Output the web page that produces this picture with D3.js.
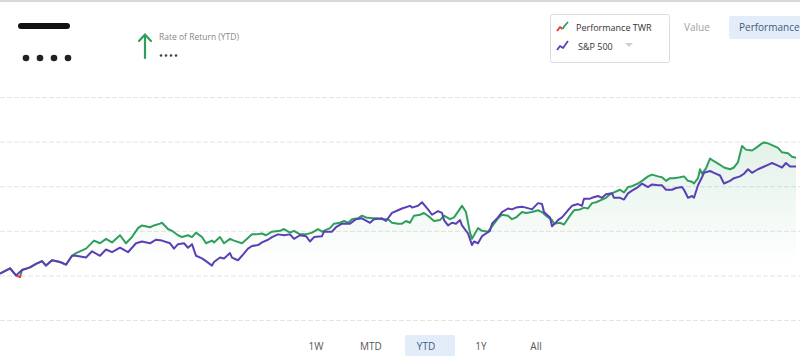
<!DOCTYPE html>
<html>
<head>
<meta charset="utf-8">
<script src="https://cdn.jsdelivr.net/npm/d3@7"></script>
<style>
  body { margin: 0; background: #fff; font-family: "Open Sans", Lato, sans-serif; }
  svg { display: block; }
</style>
</head>
<body>
<div id="chart"></div>
<script>
// [trading day, return %]
var twrSeries = [[0,0.2],[5,0.8],[8,0.0],[10,-0.2],[11,0.6],[15,0.9],[18,1.3],[21,1.6],[23,1.1],[26,1.7],[30,1.5],[33,1.2],[36,2.2],[38,2.5],[43,3.0],[47,3.9],[50,3.6],[53,4.1],[56,3.7],[60,4.5],[63,3.6],[66,4.3],[69,5.3],[71,5.6],[75,5.4],[77,5.6],[80,5.8],[81,5.9],[84,5.2],[86,5.0],[89,4.5],[91,4.3],[94,4.5],[96,4.3],[98,4.8],[101,4.3],[103,3.6],[106,3.9],[107,3.7],[110,4.3],[112,3.6],[115,4.1],[117,3.9],[121,3.6],[123,4.0],[126,4.6],[128,4.6],[131,4.7],[133,4.5],[136,4.9],[140,5.0],[142,5.2],[145,4.8],[147,5.0],[150,4.6],[153,4.6],[156,4.8],[159,5.2],[161,4.9],[165,5.3],[167,5.8],[170,5.9],[172,6.1],[174,5.9],[176,6.3],[179,6.4],[181,6.7],[183,6.5],[186,6.4],[188,6.4],[191,6.3],[194,6.3],[196,5.9],[199,5.8],[201,5.8],[203,6.1],[205,5.9],[207,6.7],[210,6.8],[212,7.0],[215,6.5],[217,6.1],[220,6.2],[222,6.7],[225,6.3],[227,6.5],[231,7.8],[233,7.1],[235,4.8],[236,4.1],[239,5.3],[241,5.0],[244,4.9],[246,5.5],[249,6.4],[251,6.8],[254,6.7],[256,6.3],[258,6.5],[261,7.1],[263,7.0],[266,7.1],[269,7.3],[271,7.1],[273,6.7],[276,6.2],[277,5.8],[280,5.9],[282,5.7],[285,6.7],[287,7.3],[290,7.4],[292,7.6],[294,7.5],[296,8.1],[298,8.2],[301,8.5],[303,8.7],[305,9.1],[307,9.3],[310,9.6],[312,9.3],[314,9.9],[316,10.0],[319,10.3],[321,10.6],[324,11.1],[326,11.3],[329,11.1],[331,11.0],[333,10.6],[335,10.9],[337,10.9],[340,11.0],[342,11.1],[344,10.6],[346,10.5],[347,10.3],[349,10.9],[350,11.9],[351,11.4],[353,12.0],[355,13.1],[357,12.8],[360,12.4],[362,12.1],[365,11.9],[367,12.1],[369,12.7],[371,14.5],[373,14.1],[376,14.0],[378,14.3],[381,14.8],[382,14.9],[384,14.8],[386,14.6],[389,14.3],[391,13.8],[394,13.7],[396,13.3],[398,13.2]];

var spSeries = [[0,0.2],[5,0.8],[8,0.0],[11,0.6],[15,0.9],[18,1.3],[21,1.6],[23,1.1],[26,1.7],[30,1.5],[33,1.2],[36,2.2],[38,2.2],[43,2.0],[46,2.7],[50,2.2],[53,2.9],[56,2.6],[60,3.1],[64,2.6],[68,3.6],[71,3.8],[75,3.6],[78,4.0],[81,3.9],[85,3.6],[87,3.0],[89,3.5],[92,3.6],[94,3.1],[96,3.5],[98,2.2],[101,1.9],[103,1.6],[106,1.1],[107,1.5],[110,2.0],[112,1.9],[115,2.5],[116,2.0],[119,1.7],[121,2.2],[124,3.0],[126,3.3],[129,3.4],[131,3.7],[134,4.0],[136,4.3],[139,4.6],[142,4.5],[145,4.6],[147,4.1],[150,4.5],[153,4.4],[155,3.8],[157,4.3],[161,4.4],[162,4.9],[166,4.9],[168,5.4],[171,5.8],[175,5.8],[178,6.3],[181,6.4],[185,5.9],[187,6.3],[191,6.4],[193,6.1],[196,7.0],[199,7.3],[201,7.5],[205,7.8],[206,7.6],[209,7.8],[211,8.2],[214,7.4],[216,6.8],[219,7.2],[221,7.0],[222,6.2],[224,5.6],[226,5.9],[228,5.8],[230,6.2],[231,5.6],[234,4.7],[236,3.4],[237,3.8],[239,3.6],[241,4.4],[243,4.7],[245,5.0],[246,5.8],[249,6.5],[251,7.1],[254,7.5],[256,7.4],[258,7.6],[261,7.7],[263,7.6],[266,7.4],[269,8.1],[271,8.0],[272,7.1],[275,6.5],[276,5.5],[279,6.2],[281,6.5],[284,7.3],[286,7.8],[289,8.0],[291,7.8],[292,8.6],[295,8.6],[296,8.7],[299,8.9],[301,8.7],[303,9.1],[306,9.2],[307,8.7],[310,8.7],[312,8.5],[314,9.2],[316,9.5],[319,9.9],[321,10.3],[324,9.9],[326,10.2],[329,10.1],[331,10.1],[333,9.6],[336,9.6],[338,9.8],[341,9.9],[342,9.6],[344,8.7],[346,8.9],[347,8.7],[349,10.1],[351,11.0],[352,11.5],[355,11.7],[357,11.5],[360,11.2],[362,10.3],[365,10.6],[367,10.9],[370,11.1],[372,11.4],[374,11.9],[376,11.5],[379,11.9],[381,12.1],[384,12.4],[386,12.6],[389,12.3],[391,12.1],[393,12.6],[395,12.2],[398,12.2]];

var gridTicks = [-5, 0, 5, 10, 15, 20];
var legendNames = ["Performance TWR", "S&P 500"];
var viewNames = ["Value", "Performance"];
var periods = ["1W", "MTD", "YTD", "1Y", "All"];
var activePeriod = "YTD";

var W = 800, H = 364;
var green = "#2f9e5c", red = "#e0393e", purple = "#5b3fb6";

var svg = d3.select("#chart").append("svg").attr("width", W).attr("height", H);
var defs = svg.append("defs");

var x = d3.scaleLinear().domain([0, 398]).range([0, 796]);
var y = d3.scaleLinear().domain([-5, 20]).range([320, 97]);

// top border
svg.append("line").attr("x1", 0).attr("x2", W).attr("y1", 1).attr("y2", 1)
  .attr("stroke", "#d9d9d9").attr("stroke-width", 2);

// grid
svg.append("g")
  .attr("class", "grid")
  .call(d3.axisLeft(y).tickValues(gridTicks).tickSize(-W).tickFormat(""))
  .call(function(g){
    g.select(".domain").remove();
    g.selectAll(".tick line").attr("stroke", "#e4e4e4").attr("stroke-dasharray", "5,2");
  });

// gradients
var areaGrad = defs.append("linearGradient").attr("id", "areaGrad")
  .attr("gradientUnits", "userSpaceOnUse").attr("x1", 0).attr("x2", 0)
  .attr("y1", y(15)).attr("y2", y(1));
areaGrad.append("stop").attr("offset", 0).attr("stop-color", green).attr("stop-opacity", 0.14);
areaGrad.append("stop").attr("offset", 1).attr("stop-color", green).attr("stop-opacity", 0);

var zeroOff = (y(0) - y(20)) / (y(-5) - y(20));
var lineGrad = defs.append("linearGradient").attr("id", "lineGrad")
  .attr("gradientUnits", "userSpaceOnUse").attr("x1", 0).attr("x2", 0)
  .attr("y1", y(20)).attr("y2", y(-5));
lineGrad.append("stop").attr("offset", zeroOff).attr("stop-color", green);
lineGrad.append("stop").attr("offset", zeroOff).attr("stop-color", red);

var area = d3.area().x(function(d){ return x(d[0]); })
  .y0(y(-5)).y1(function(d){ return y(d[1]); });
var line = d3.line().x(function(d){ return x(d[0]); }).y(function(d){ return y(d[1]); });

svg.append("path").datum(twrSeries).attr("d", area).attr("fill", "url(#areaGrad)");
svg.append("path").datum(twrSeries).attr("d", line)
  .attr("fill", "none").attr("stroke", "url(#lineGrad)").attr("stroke-width", 2)
  .attr("stroke-linejoin", "round");
svg.append("path").datum(spSeries).attr("d", line)
  .attr("fill", "none").attr("stroke", purple).attr("stroke-width", 2)
  .attr("stroke-linejoin", "round");

// header left (masked name and value)
svg.append("rect").attr("x", 18).attr("y", 23).attr("width", 52).attr("height", 6)
  .attr("rx", 3).attr("fill", "#111");
svg.selectAll(".bigdot").data(d3.range(4)).enter().append("circle")
  .attr("cx", function(d){ return 26 + d * 14; }).attr("cy", 58).attr("r", 3.3).attr("fill", "#222");

// arrow
var arrow = svg.append("g").attr("stroke", green).attr("stroke-width", 2.2).attr("fill", "none")
  .attr("stroke-linecap", "round");
arrow.append("line").attr("x1", 145).attr("x2", 145).attr("y1", 35).attr("y2", 58);
arrow.append("polyline").attr("points", "139,41 145,34.5 151,41");

svg.append("text").attr("x", 159).attr("y", 40).text("Rate of Return (YTD)")
  .attr("font-size", 8.5).attr("fill", "#888");
svg.selectAll(".smalldot").data(d3.range(4)).enter().append("circle")
  .attr("cx", function(d){ return 161 + d * 5; }).attr("cy", 55.5).attr("r", 1.3).attr("fill", "#444");

// legend box
svg.append("rect").attr("x", 550.5).attr("y", 14.5).attr("width", 119).attr("height", 48)
  .attr("rx", 2).attr("fill", "#fff").attr("stroke", "#dcdcdc");

var icon1 = svg.append("g").attr("fill", "none").attr("stroke-width", 1.8).attr("stroke-linejoin", "round");
icon1.append("polyline").attr("points", "557,31 560,27 562.5,29").attr("stroke", red);
icon1.append("polyline").attr("points", "562.5,29 564.5,26 568,22").attr("stroke", green);
svg.append("polyline").attr("points", "557,50 560,46 563,48 568,41")
  .attr("fill", "none").attr("stroke", purple).attr("stroke-width", 1.8).attr("stroke-linejoin", "round");

svg.selectAll(".legtext").data(legendNames).enter().append("text")
  .attr("x", function(d, i){ return i === 0 ? 576 : 578; })
  .attr("y", function(d, i){ return 31 + i * 19; })
  .text(function(d){ return d; })
  .attr("font-size", 9).attr("fill", "#333");
svg.append("path").attr("d", "M625,43 L633,43 L629,47 Z").attr("fill", "#cfcfcf");

// view toggle
svg.append("rect").attr("x", 729).attr("y", 16).attr("width", 75).attr("height", 23)
  .attr("rx", 2).attr("fill", "#e3edf9");
svg.append("text").attr("x", 684).attr("y", 31).text(viewNames[0])
  .attr("font-size", 10).attr("fill", "#a0a0a0");
svg.append("text").attr("x", 739).attr("y", 31).text(viewNames[1])
  .attr("font-size", 10).attr("fill", "#3e5a82");

// period buttons
var px = d3.scalePoint().domain(periods).range([316, 536]);
svg.append("rect").attr("x", px(activePeriod) - 21).attr("y", 335).attr("width", 50).attr("height", 21)
  .attr("rx", 2).attr("fill", "#e3edf9");
svg.selectAll(".period").data(periods).enter().append("text")
  .attr("x", function(d){ return px(d); }).attr("y", 350)
  .attr("text-anchor", "middle")
  .text(function(d){ return d; })
  .attr("font-size", 10)
  .attr("fill", function(d){ return d === activePeriod ? "#3e5a82" : "#555"; });
</script>
</body>
</html>
